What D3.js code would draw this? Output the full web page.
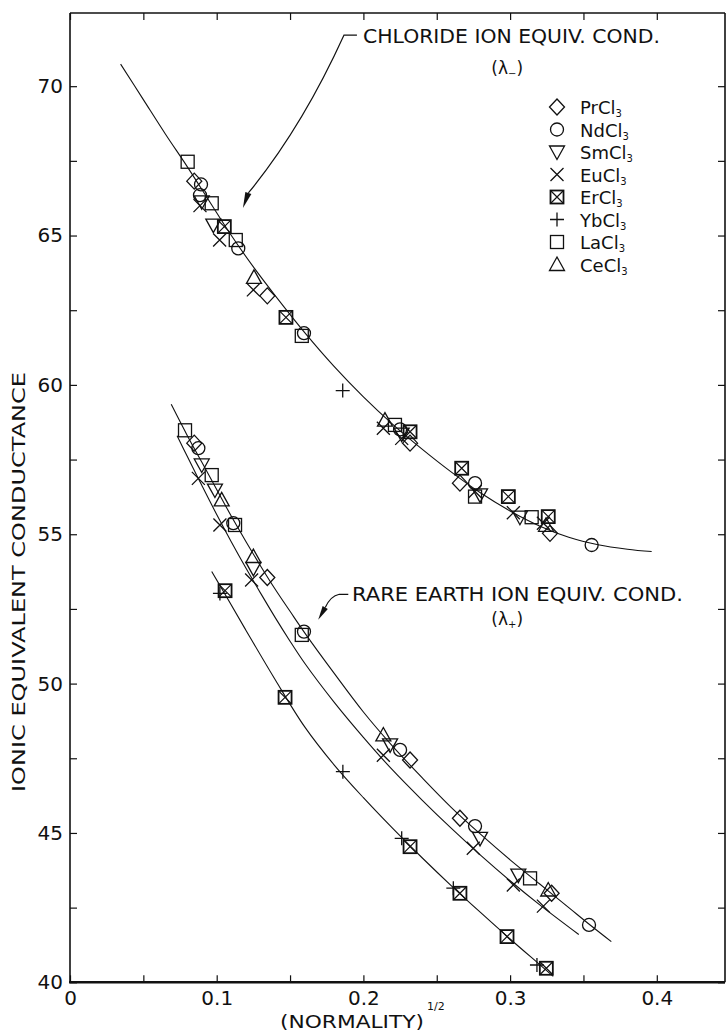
<!DOCTYPE html>
<html><head><meta charset="utf-8">
<script src="https://cdn.jsdelivr.net/npm/d3@7"></script>
<style>
body{margin:0;background:#fff}
svg{display:block}
text{font-family:"DejaVu Sans",sans-serif;fill:#111}
</style>
</head><body>
<svg id="c" width="726" height="1033"></svg>
<script>
// ---------- data ----------
const compoundNames = ["PrCl","NdCl","SmCl","EuCl","ErCl","YbCl","LaCl","CeCl"];
const xTickValues = [0,0.05,0.1,0.15,0.2,0.25,0.3,0.35,0.4];
const xTickLabels = ["0","","0.1","","0.2","","0.3","","0.4"];
const yTickValues = [40,42.5,45,47.5,50,52.5,55,57.5,60,62.5,65,67.5,70];
const yTickLabels = ["40","","45","","50","","55","","60","","65","","70"];

// measured points [sqrt(N), conductance]
const prCl3 = [[0.0847,66.82],[0.1345,62.98],[0.2318,58.05],[0.2658,56.71],[0.3272,55.03],
               [0.0847,58.05],[0.1345,53.55],[0.2318,47.44],[0.2658,45.49],[0.3283,42.98]];
const ndCl3 = [[0.0893,66.71],[0.0886,66.35],[0.1147,64.57],[0.1595,61.73],[0.225,58.51],[0.2761,56.71],[0.3556,54.64],
               [0.0875,57.88],[0.1113,55.37],[0.1595,51.74],[0.225,47.78],[0.2761,45.23],[0.3538,41.92]];
const smCl3 = [[0.0898,66.13],[0.0977,65.35],[0.2261,58.35],[0.2795,56.32],[0.3067,55.57],
               [0.0898,57.32],[0.0988,56.48],[0.125,53.86],[0.2182,47.95],[0.2795,44.82],[0.3056,43.59]];
const euCl3 = [[0.0886,66.0],[0.102,64.85],[0.125,63.18],[0.2136,58.55],[0.2261,58.21],[0.2761,56.43],[0.3022,55.72],[0.3227,55.37],
               [0.0875,56.87],[0.1022,55.31],[0.1238,53.47],[0.2136,47.6],[0.2749,44.49],[0.3022,43.26],[0.3227,42.55]];
const erCl3 = [[0.1052,65.30],[0.1472,62.26],[0.2318,58.43],[0.267,57.21],[0.2988,56.26],[0.326,55.59],
               [0.1057,53.11],[0.1466,49.54],[0.2318,44.54],[0.2658,42.98],[0.2979,41.53],[0.3247,40.47]];
const ybCl3 = [[0.1859,59.81],
               [0.1022,53.02],[0.186,47.05],[0.2261,44.82],[0.2613,43.15],[0.3183,40.58]];
const laCl3 = [[0.0802,67.47],[0.0966,66.08],[0.113,64.85],[0.158,61.64],[0.2215,58.66],[0.2761,56.26],[0.3147,55.57],
               [0.0784,58.48],[0.0966,56.98],[0.1125,55.31],[0.158,51.63],[0.3136,43.48]];
const ceCl3 = [[0.1254,63.60],[0.2147,58.82],[0.3245,55.3],
               [0.1034,56.15],[0.125,54.25],[0.2136,48.28],[0.326,43.09]];

// hand-drawn smooth curves
const chlorideCurve = [[0.0345,70.74],[0.05,69.55],[0.065,68.4],[0.08,67.3],[0.095,66.15],[0.11,65.0],[0.125,63.95],
  [0.14,62.98],[0.16,61.75],[0.18,60.62],[0.20,59.6],[0.22,58.68],[0.24,57.85],[0.26,57.08],[0.28,56.38],
  [0.30,55.78],[0.32,55.28],[0.34,54.9],[0.36,54.65],[0.38,54.5],[0.3965,54.42]];
const lightRECurve = [[0.069,59.35],[0.08,58.3],[0.09,57.4],[0.10,56.5],[0.11,55.6],[0.12,54.75],[0.13,53.93],
  [0.14,53.15],[0.15,52.42],[0.16,51.7],[0.18,50.35],[0.20,49.05],[0.22,47.9],[0.24,46.85],[0.26,45.85],
  [0.28,44.95],[0.30,44.1],[0.32,43.3],[0.34,42.5],[0.355,41.9],[0.369,41.36]];
const smEuCurve = [[0.073,58.3],[0.08,57.6],[0.09,56.62],[0.10,55.66],[0.11,54.74],[0.12,53.86],[0.13,53.02],
  [0.14,52.2],[0.15,51.42],[0.16,50.68],[0.18,49.38],[0.20,48.2],[0.22,47.1],[0.24,46.1],[0.26,45.15],
  [0.28,44.25],[0.30,43.4],[0.32,42.6],[0.3468,41.6]];
const erYbCurve = [[0.0966,53.75],[0.105,53.05],[0.12,51.78],[0.14,50.12],[0.16,48.55],[0.18,47.28],[0.20,46.18],
  [0.22,45.15],[0.24,44.17],[0.26,43.23],[0.28,42.33],[0.30,41.45],[0.32,40.6],[0.3294,40.2]];

// ---------- drawing ----------
const svg = d3.select("#c");
svg.append("rect").attr("width",726).attr("height",1033).attr("fill","#fff");

const L=70, R=725, T=13, B=982.3;
const x = d3.scaleLinear().domain([0,0.45]).range([L, L+0.45*1467]);
const y = d3.scaleLinear().domain([40,72.45]).range([B, T]);

const ink = "#111";

// axes (ticks inward)
const gB = svg.append("g").attr("transform",`translate(0,${B})`)
  .call(d3.axisBottom(x).tickValues(xTickValues).tickSize(-7).tickPadding(9)
    .tickFormat((d,i)=>xTickLabels[i]));
const gT = svg.append("g").attr("transform",`translate(0,${T})`)
  .call(d3.axisTop(x).tickValues(xTickValues).tickSize(-7).tickFormat(""));
const gL = svg.append("g").attr("transform",`translate(${L},0)`)
  .call(d3.axisLeft(y).tickValues(yTickValues).tickSize(-7).tickPadding(7)
    .tickFormat((d,i)=>yTickLabels[i]));
const gR = svg.append("g").attr("transform",`translate(${R},0)`)
  .call(d3.axisRight(y).tickValues(yTickValues).tickSize(-7).tickFormat(""));
[gB,gT,gL,gR].forEach(g=>{
  g.select(".domain").remove();
  g.selectAll(".tick line").attr("stroke",ink).attr("stroke-width",1.2);
  g.selectAll(".tick text").attr("font-size",20).attr("fill",ink)
    .style("font-family","'DejaVu Sans',sans-serif");
});

// frame
svg.append("line").attr("x1",L).attr("x2",L).attr("y1",T).attr("y2",B).attr("stroke",ink).attr("stroke-width",1.6);
svg.append("line").attr("x1",L).attr("x2",R).attr("y1",T).attr("y2",T).attr("stroke",ink).attr("stroke-width",1.6);
svg.append("line").attr("x1",R).attr("x2",R).attr("y1",T).attr("y2",B).attr("stroke",ink).attr("stroke-width",1.6);
svg.append("line").attr("x1",L-1).attr("x2",R).attr("y1",B).attr("y2",B).attr("stroke",ink).attr("stroke-width",2.6);

// axis titles
svg.append("text").attr("x",280).attr("y",1028).attr("font-size",18)
  .attr("textLength",144).attr("lengthAdjust","spacingAndGlyphs").text("(NORMALITY)");
svg.append("text").attr("x",427).attr("y",1010).attr("font-size",11).text("1/2");
svg.append("text").attr("transform","translate(25,582) rotate(-90)")
  .attr("text-anchor","middle").attr("font-size",18)
  .attr("textLength",420).attr("lengthAdjust","spacingAndGlyphs")
  .text("IONIC EQUIVALENT CONDUCTANCE");

// curves
const line = d3.line().x(d=>x(d[0])).y(d=>y(d[1])).curve(d3.curveCatmullRom.alpha(0.5));
[chlorideCurve, lightRECurve, smEuCurve, erYbCurve].forEach(c=>{
  svg.append("path").attr("d",line(c)).attr("fill","none").attr("stroke",ink).attr("stroke-width",1.1);
});

// markers
const symbolTypes = ["diamond","circle","triDown","x","boxX","plus","square","triUp"];
function marker(g, type, cx, cy){
  const s = g.append("g").attr("transform",`translate(${cx},${cy})`)
    .attr("fill","none").attr("stroke",ink).attr("stroke-width",1.3);
  switch(type){
    case "diamond": s.append("path").attr("d","M0,-8L7.5,0L0,8L-7.5,0Z"); break;
    case "circle": s.append("circle").attr("r",6.5); break;
    case "triDown": s.append("path").attr("d","M-7.5,-6L7.5,-6L0,7.5Z"); break;
    case "triUp": s.append("path").attr("d","M-7.5,6L7.5,6L0,-7.5Z"); break;
    case "x": s.append("path").attr("d","M-6.5,-6.5L6.5,6.5M-6.5,6.5L6.5,-6.5"); break;
    case "plus": s.append("path").attr("d","M-7,0L7,0M0,-7L0,7"); break;
    case "square": s.append("rect").attr("x",-6.5).attr("y",-6.5).attr("width",13).attr("height",13); break;
    case "boxX":
      s.attr("stroke-width",1.8);
      s.append("rect").attr("x",-6.5).attr("y",-6.5).attr("width",13).attr("height",13);
      s.append("path").attr("d","M-6.5,-6.5L6.5,6.5M-6.5,6.5L6.5,-6.5").attr("stroke-width",1.2);
      break;
  }
}
const allSeries = [prCl3, ndCl3, smCl3, euCl3, erCl3, ybCl3, laCl3, ceCl3];
const gm = svg.append("g");
allSeries.forEach((pts,i)=>{
  pts.forEach(p=>marker(gm, symbolTypes[i], x(p[0]), y(p[1])));
});

// legend
const legRows = [107,129.5,152,174.5,197,219.5,242,264.5];
compoundNames.forEach((n,i)=>{
  marker(svg, symbolTypes[i], 557, legRows[i]);
  const t = svg.append("text").attr("x",580).attr("y",legRows[i]+7).attr("font-size",18).text(n);
  t.append("tspan").attr("dy",3).attr("font-size",10).text("3");
});

// annotations
function arrowHead(tip, from, len, half){
  const dx = tip[0]-from[0], dy = tip[1]-from[1];
  const d = Math.hypot(dx,dy), ux=dx/d, uy=dy/d;
  const bx = tip[0]-ux*len, by = tip[1]-uy*len;
  svg.append("path").attr("d",`M${tip[0]},${tip[1]}L${bx-uy*half},${by+ux*half}L${bx+uy*half},${by-ux*half}Z`)
    .attr("fill",ink);
  return [bx,by];
}
// chloride
svg.append("text").attr("x",x(0.1997)).attr("y",y(71.445)).attr("font-size",19)
  .attr("textLength",297).attr("lengthAdjust","spacingAndGlyphs").text("CHLORIDE ION EQUIV. COND.");
{
  const t1 = svg.append("text").attr("x",x(0.298)).attr("y",y(70.4)).attr("text-anchor","middle").attr("font-size",17).text("(λ");
  t1.append("tspan").attr("dy",3).attr("font-size",10).text("−");
  t1.append("tspan").attr("dy",-3).text(")");
  const tip=[x(0.1179),y(65.92)];
  const p0=[x(0.1956),y(71.71)], p1=[x(0.1868),y(71.71)];
  const ctrl=[x(0.158),y(68.6)];
  const base = arrowHead(tip, [x(0.1225),y(66.55)], 16, 3.2);
  svg.append("path").attr("d",`M${p0[0]},${p0[1]}L${p1[0]},${p1[1]}Q${ctrl[0]},${ctrl[1]} ${base[0]},${base[1]}`)
    .attr("fill","none").attr("stroke",ink).attr("stroke-width",1.2);
}
// rare earth
svg.append("text").attr("x",x(0.1922)).attr("y",y(52.77)).attr("font-size",19)
  .attr("textLength",331).attr("lengthAdjust","spacingAndGlyphs").text("RARE EARTH ION EQUIV. COND.");
{
  const t2 = svg.append("text").attr("x",x(0.298)).attr("y",y(51.95)).attr("text-anchor","middle").attr("font-size",17).text("(λ");
  t2.append("tspan").attr("dy",3).attr("font-size",10).text("+");
  t2.append("tspan").attr("dy",-3).text(")");
  const tip=[x(0.1692),y(52.14)];
  const p0=[x(0.1897),y(52.99)], p1=[x(0.1836),y(52.99)];
  const ctrl=[x(0.1775),y(52.93)];
  const base = arrowHead(tip, [x(0.1744),y(52.58)], 14, 3);
  svg.append("path").attr("d",`M${p0[0]},${p0[1]}L${p1[0]},${p1[1]}Q${ctrl[0]},${ctrl[1]} ${base[0]},${base[1]}`)
    .attr("fill","none").attr("stroke",ink).attr("stroke-width",1.2);
}
</script>
</body></html>
